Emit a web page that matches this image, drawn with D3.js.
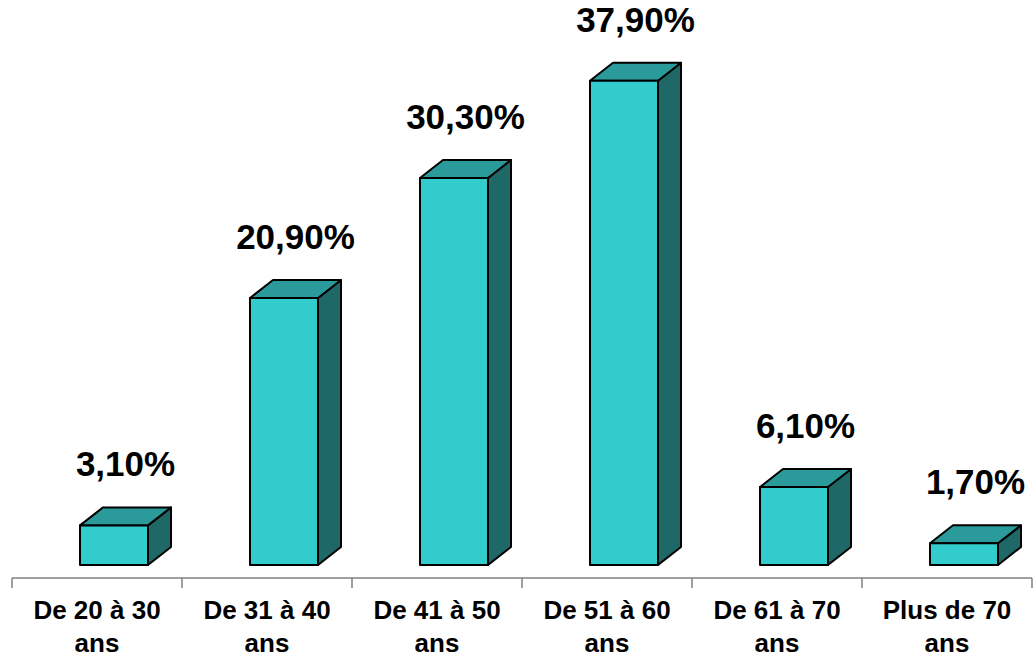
<!DOCTYPE html>
<html>
<head>
<meta charset="utf-8">
<script src="https://cdn.jsdelivr.net/npm/d3@7"></script>
<style>
  body { margin: 0; background: #fff; }
  svg { display: block; font-family: "Liberation Sans", Arial, sans-serif; }
</style>
</head>
<body>
<div id="chart"></div>
<script>
// data
const categories = ['De 20 à 30 ans', 'De 31 à 40 ans', 'De 41 à 50 ans', 'De 51 à 60 ans', 'De 61 à 70 ans', 'Plus de 70 ans'];
const labelLine1 = ['De 20 à 30', 'De 31 à 40', 'De 41 à 50', 'De 51 à 60', 'De 61 à 70', 'Plus de 70'];
const labelLine2 = ['ans', 'ans', 'ans', 'ans', 'ans', 'ans'];
const values = [3.1, 20.9, 30.3, 37.9, 6.1, 1.7];
const valueLabels = ['3,10%', '20,90%', '30,30%', '37,90%', '6,10%', '1,70%'];

const width = 1034, height = 657;
const baseY = 565, axisY = 578;
const depthX = 23, depthY = 18;

const svg = d3.select('#chart').append('svg')
  .attr('width', width)
  .attr('height', height);

var x = d3.scaleBand()
  .domain(categories)
  .range([12, 1032])
  .padding(0);

var y = d3.scaleLinear()
  .domain([0, 40])
  .range([baseY, 54]);

const bw = x.bandwidth();
const frontX = d => x(d) + bw * 0.4;
const frontW = bw * 0.4;

// axis line + boundary ticks
svg.append('line')
  .attr('x1', x.range()[0]).attr('x2', x.range()[1])
  .attr('y1', axisY).attr('y2', axisY)
  .attr('stroke', '#808080').attr('stroke-width', 1.5);

const bounds = categories.map(c => x(c)).concat([x.range()[1]]);
svg.append('g').selectAll('line')
  .data(bounds)
  .enter().append('line')
    .attr('x1', d => d).attr('x2', d => d)
    .attr('y1', axisY).attr('y2', axisY + 10)
    .attr('stroke', '#808080').attr('stroke-width', 1.5);

// 3d bars
const bars = svg.append('g').selectAll('g')
  .data(categories)
  .enter().append('g')
    .attr('stroke', '#000')
    .attr('stroke-width', 2)
    .attr('stroke-linejoin', 'round');

// side face
bars.append('path')
  .attr('fill', '#1F6868')
  .attr('d', (d, i) => {
    const x1 = frontX(d) + frontW, top = y(values[i]);
    return `M${x1},${baseY} L${x1},${top} L${x1 + depthX},${top - depthY} L${x1 + depthX},${baseY - depthY} Z`;
  });

// top face
bars.append('path')
  .attr('fill', '#2A9A9A')
  .attr('d', (d, i) => {
    const x0 = frontX(d), x1 = x0 + frontW, top = y(values[i]);
    return `M${x0},${top} L${x0 + depthX},${top - depthY} L${x1 + depthX},${top - depthY} L${x1},${top} Z`;
  });

// front face
bars.append('rect')
  .attr('fill', '#33CCCC')
  .attr('x', d => frontX(d))
  .attr('y', (d, i) => y(values[i]))
  .attr('width', frontW)
  .attr('height', (d, i) => baseY - y(values[i]));

// value labels
svg.append('g').selectAll('text')
  .data(categories)
  .enter().append('text')
    .attr('x', d => frontX(d) + (frontW + depthX) / 2)
    .attr('y', (d, i) => y(values[i]) - 49)
    .attr('text-anchor', 'middle')
    .attr('font-size', 35)
    .attr('font-weight', 'bold')
    .text((d, i) => valueLabels[i]);

// category labels
const cat = svg.append('g').selectAll('text')
  .data(categories)
  .enter().append('text')
    .attr('text-anchor', 'middle')
    .attr('font-size', 26)
    .attr('font-weight', 'bold');
cat.append('tspan')
  .attr('x', d => x(d) + bw / 2)
  .attr('y', 619)
  .text((d, i) => labelLine1[i]);
cat.append('tspan')
  .attr('x', d => x(d) + bw / 2)
  .attr('y', 652)
  .text((d, i) => labelLine2[i]);
</script>
</body>
</html>
